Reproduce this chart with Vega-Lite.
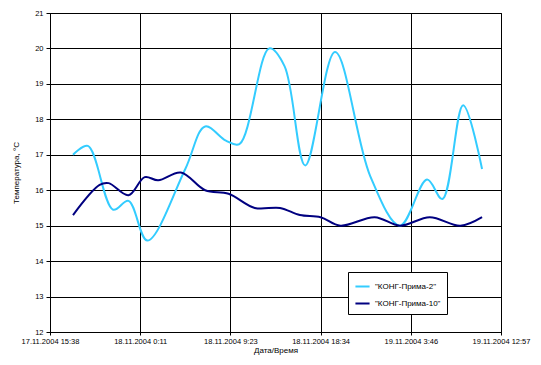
{
  "$schema": "https://vega.github.io/schema/vega-lite/v6.json",
  "autosize": "none",
  "width": 451,
  "height": 319,
  "padding": {"left": 50, "top": 13, "right": 40, "bottom": 33},
  "background": "white",
  "view": {"stroke": "black", "strokeWidth": 1},
  "config": {"font": "Liberation Sans"},
  "data": {
    "values": [
      {"t": 0.255, "v": 17.0, "s": "\"КОНГ-Прима-2\""},
      {"t": 0.42, "v": 17.25, "s": "\"КОНГ-Прима-2\""},
      {"t": 0.7, "v": 15.45, "s": "\"КОНГ-Прима-2\""},
      {"t": 0.87, "v": 15.7, "s": "\"КОНГ-Прима-2\""},
      {"t": 1.08, "v": 14.58, "s": "\"КОНГ-Прима-2\""},
      {"t": 1.5, "v": 16.6, "s": "\"КОНГ-Прима-2\""},
      {"t": 1.72, "v": 17.8, "s": "\"КОНГ-Прима-2\""},
      {"t": 1.95, "v": 17.4, "s": "\"КОНГ-Прима-2\""},
      {"t": 2.1, "v": 17.3, "s": "\"КОНГ-Прима-2\""},
      {"t": 2.43, "v": 20.0, "s": "\"КОНГ-Прима-2\""},
      {"t": 2.6, "v": 19.5, "s": "\"КОНГ-Прима-2\""},
      {"t": 2.83, "v": 16.7, "s": "\"КОНГ-Прима-2\""},
      {"t": 3.16, "v": 19.9, "s": "\"КОНГ-Прима-2\""},
      {"t": 3.55, "v": 16.4, "s": "\"КОНГ-Прима-2\""},
      {"t": 3.88, "v": 15.0, "s": "\"КОНГ-Прима-2\""},
      {"t": 4.18, "v": 16.3, "s": "\"КОНГ-Прима-2\""},
      {"t": 4.35, "v": 15.75, "s": "\"КОНГ-Прима-2\""},
      {"t": 4.58, "v": 18.4, "s": "\"КОНГ-Прима-2\""},
      {"t": 4.79, "v": 16.6, "s": "\"КОНГ-Прима-2\""},
      {"t": 0.255, "v": 15.3, "s": "\"КОНГ-Прима-10\""},
      {"t": 0.55, "v": 16.15, "s": "\"КОНГ-Прима-10\""},
      {"t": 0.65, "v": 16.2, "s": "\"КОНГ-Прима-10\""},
      {"t": 0.87, "v": 15.86, "s": "\"КОНГ-Прима-10\""},
      {"t": 1.05, "v": 16.37, "s": "\"КОНГ-Прима-10\""},
      {"t": 1.2, "v": 16.28, "s": "\"КОНГ-Прима-10\""},
      {"t": 1.45, "v": 16.5, "s": "\"КОНГ-Прима-10\""},
      {"t": 1.72, "v": 16.0, "s": "\"КОНГ-Прима-10\""},
      {"t": 1.98, "v": 15.9, "s": "\"КОНГ-Прима-10\""},
      {"t": 2.27, "v": 15.5, "s": "\"КОНГ-Прима-10\""},
      {"t": 2.55, "v": 15.5, "s": "\"КОНГ-Прима-10\""},
      {"t": 2.77, "v": 15.3, "s": "\"КОНГ-Прима-10\""},
      {"t": 3.0, "v": 15.24, "s": "\"КОНГ-Прима-10\""},
      {"t": 3.22, "v": 15.0, "s": "\"КОНГ-Прима-10\""},
      {"t": 3.6, "v": 15.24, "s": "\"КОНГ-Прима-10\""},
      {"t": 3.88, "v": 15.0, "s": "\"КОНГ-Прима-10\""},
      {"t": 4.21, "v": 15.24, "s": "\"КОНГ-Прима-10\""},
      {"t": 4.55, "v": 15.0, "s": "\"КОНГ-Прима-10\""},
      {"t": 4.79, "v": 15.24, "s": "\"КОНГ-Прима-10\""}
    ]
  },
  "mark": {"type": "line", "interpolate": "catmull-rom", "strokeWidth": 2},
  "encoding": {
    "x": {
      "field": "t",
      "type": "quantitative",
      "scale": {"domain": [0, 5], "nice": false, "zero": false},
      "axis": {
        "values": [0, 1, 2, 3, 4, 5],
        "labelExpr": "['17.11.2004 15:38','18.11.2004 0:11','18.11.2004 9:23','18.11.2004 18:34','19.11.2004 3:46','19.11.2004 12:57'][datum.value]",
        "title": "Дата/Время",
        "titleFont": "Liberation Sans",
        "titleFontSize": 8,
        "titleFontWeight": "normal",
        "titleColor": "black",
        "titlePadding": 2,
        "labelFontSize": 7.5,
        "labelColor": "black",
        "labelPadding": 2,
        "domainColor": "black",
        "tickColor": "black",
        "tickSize": 3,
        "grid": true,
        "gridColor": "black",
        "gridOpacity": 1,
        "gridWidth": 1,
        "labelOverlap": false,
        "labelBound": false,
        "labelFlush": false
      }
    },
    "y": {
      "field": "v",
      "type": "quantitative",
      "scale": {"domain": [12, 21], "nice": false, "zero": false},
      "axis": {
        "values": [12, 13, 14, 15, 16, 17, 18, 19, 20, 21],
        "title": "Температура, °C",
        "titleFont": "Liberation Sans",
        "titleFontSize": 8,
        "titleFontWeight": "normal",
        "titleColor": "black",
        "titlePadding": 14,
        "labelFontSize": 7.5,
        "labelColor": "black",
        "labelPadding": 3,
        "domainColor": "black",
        "tickColor": "black",
        "tickSize": 4,
        "grid": true,
        "gridColor": "black",
        "gridOpacity": 1,
        "gridWidth": 1
      }
    },
    "color": {
      "field": "s",
      "type": "nominal",
      "scale": {
        "domain": ["\"КОНГ-Прима-2\"", "\"КОНГ-Прима-10\""],
        "range": ["#33CCFF", "#000080"]
      },
      "legend": {
        "title": null,
        "orient": "none",
        "legendX": 298,
        "legendY": 259,
        "padding": 6,
        "fillColor": "white",
        "strokeColor": "black",
        "symbolType": "stroke",
        "symbolSize": 200,
        "symbolStrokeWidth": 2,
        "labelFontSize": 8,
        "labelColor": "black",
        "rowPadding": 4,
        "labelOffset": 4,
        "labelLimit": 200
      }
    }
  }
}
